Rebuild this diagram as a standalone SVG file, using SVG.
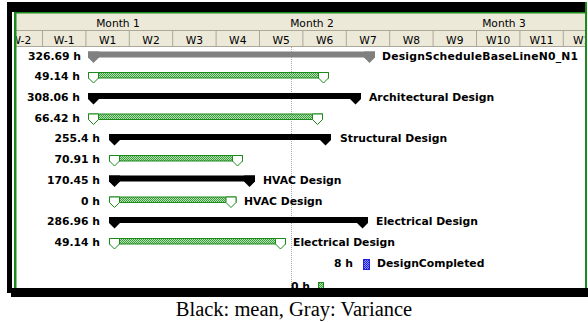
<svg xmlns="http://www.w3.org/2000/svg" width="588" height="322" viewBox="0 0 588 322">
<style>
.hdr{font-family:"DejaVu Sans",Verdana,sans-serif;font-size:10.7px;fill:#000;text-anchor:middle}
.lbl{font-family:"DejaVu Sans",Verdana,sans-serif;font-size:10.8px;font-weight:bold;fill:#000}
.val{font-family:"DejaVu Sans",Verdana,sans-serif;font-size:10.8px;font-weight:bold;fill:#000;text-anchor:end}
.sep{stroke:#aca899;stroke-width:1}
.blk{fill:#000}
.gry{fill:#808080}
.gbody{fill:url(#hatchG);stroke:#1a8a1a;stroke-width:1}
.gend{fill:#fff;stroke:#1a8a1a;stroke-width:1}
.cap{font-family:"Liberation Serif","Times New Roman",serif;font-size:20.5px;fill:#000;text-anchor:middle}
</style>
<defs>
<pattern id="hatchG" width="2" height="2" patternUnits="userSpaceOnUse">
<rect width="2" height="2" fill="#b4e2b4"/><rect width="1" height="1" fill="#3c9c3c"/><rect x="1" y="1" width="1" height="1" fill="#3c9c3c"/>
</pattern>
<pattern id="hatchB" width="2" height="2" patternUnits="userSpaceOnUse">
<rect width="2" height="2" fill="#9090ff"/><rect width="1" height="1" fill="#2020e0"/><rect x="1" y="1" width="1" height="1" fill="#2020e0"/>
</pattern>
<clipPath id="hclip"><rect x="16" y="13" width="569" height="34"/></clipPath>
</defs>
<rect width="588" height="322" fill="#fff"/>

<!-- header -->
<g id="header" clip-path="url(#hclip)">
<rect x="16" y="13" width="569" height="17" fill="#ece9d8"/>
<rect x="16" y="31" width="569" height="15" fill="#ece9d8"/>
<line class="sep" x1="16" y1="30.5" x2="585" y2="30.5"/>
<line class="sep" x1="16" y1="46.5" x2="585" y2="46.5"/>
<text class="hdr" x="118" y="26.5">Month 1</text>
<text class="hdr" x="312" y="26.5">Month 2</text>
<text class="hdr" x="504" y="26.5">Month 3</text>
<g class="sep">
<line x1="42.5" y1="31" x2="42.5" y2="46"/><line x1="85.9" y1="31" x2="85.9" y2="46"/><line x1="129.3" y1="31" x2="129.3" y2="46"/><line x1="172.7" y1="31" x2="172.7" y2="46"/><line x1="216.1" y1="31" x2="216.1" y2="46"/><line x1="259.5" y1="31" x2="259.5" y2="46"/><line x1="302.9" y1="31" x2="302.9" y2="46"/><line x1="346.3" y1="31" x2="346.3" y2="46"/><line x1="389.7" y1="31" x2="389.7" y2="46"/><line x1="433.1" y1="31" x2="433.1" y2="46"/><line x1="476.5" y1="31" x2="476.5" y2="46"/><line x1="519.9" y1="31" x2="519.9" y2="46"/><line x1="563.3" y1="31" x2="563.3" y2="46"/>
</g>
<text class="hdr" x="20.8" y="43.5">W-2</text>
<text class="hdr" x="64.2" y="43.5">W-1</text>
<text class="hdr" x="107.6" y="43.5">W1</text>
<text class="hdr" x="151" y="43.5">W2</text>
<text class="hdr" x="194.4" y="43.5">W3</text>
<text class="hdr" x="237.8" y="43.5">W4</text>
<text class="hdr" x="281.2" y="43.5">W5</text>
<text class="hdr" x="324.6" y="43.5">W6</text>
<text class="hdr" x="368" y="43.5">W7</text>
<text class="hdr" x="411.4" y="43.5">W8</text>
<text class="hdr" x="454.8" y="43.5">W9</text>
<text class="hdr" x="498.2" y="43.5">W10</text>
<text class="hdr" x="541.6" y="43.5">W11</text>
<text class="hdr" x="585" y="43.5">W12</text>
</g>

<g id="connectors">
<line x1="291.5" y1="47" x2="291.5" y2="288" stroke="#a8a8a8" stroke-width="1" stroke-dasharray="1 1"/>
</g>

<g id="row1">
<text class="val" x="81" y="59.5">326.69 h</text>
<rect class="gry" x="88" y="51.5" width="287" height="6"/>
<path class="gry" d="M88,51.5 h11 v6 l-5.5,5.5 l-5.5,-5.5 z"/>
<path class="gry" d="M364,51.5 h11 v6 l-5.5,5.5 l-5.5,-5.5 z"/>
<text class="lbl" x="382" y="59.5" textLength="196" lengthAdjust="spacing">DesignScheduleBaseLineN0_N1</text>
</g>
<g id="row2">
<text class="val" x="80" y="80">49.14 h</text>
<rect class="gbody" x="88.5" y="72.5" width="240" height="5.5"/>
<path class="gend" d="M88.5,72.5 h10 v5.5 l-5,5 l-5,-5 z"/>
<path class="gend" d="M318.5,72.5 h10 v5.5 l-5,5 l-5,-5 z"/>
</g>
<g id="row3">
<text class="val" x="80" y="101">308.06 h</text>
<rect class="blk" x="88" y="93" width="273" height="6"/>
<path class="blk" d="M88,93 h11 v6 l-5.5,5.5 l-5.5,-5.5 z"/>
<path class="blk" d="M350,93 h11 v6 l-5.5,5.5 l-5.5,-5.5 z"/>
<text class="lbl" x="369" y="101">Architectural Design</text>
</g>
<g id="row4">
<text class="val" x="80" y="121.5">66.42 h</text>
<rect class="gbody" x="88.5" y="114" width="234" height="5.5"/>
<path class="gend" d="M88.5,114 h10 v5.5 l-5,5 l-5,-5 z"/>
<path class="gend" d="M312.5,114 h10 v5.5 l-5,5 l-5,-5 z"/>
</g>
<g id="row5">
<text class="val" x="100" y="142">255.4 h</text>
<rect class="blk" x="109" y="134" width="222" height="6"/>
<path class="blk" d="M109,134 h11 v6 l-5.5,5.5 l-5.5,-5.5 z"/>
<path class="blk" d="M320,134 h11 v6 l-5.5,5.5 l-5.5,-5.5 z"/>
<text class="lbl" x="340" y="142">Structural Design</text>
</g>
<g id="row6">
<text class="val" x="100" y="163">70.91 h</text>
<rect class="gbody" x="109.5" y="155.5" width="133" height="5.5"/>
<path class="gend" d="M109.5,155.5 h10 v5.5 l-5,5 l-5,-5 z"/>
<path class="gend" d="M232.5,155.5 h10 v5.5 l-5,5 l-5,-5 z"/>
</g>
<g id="row7">
<text class="val" x="100" y="183.5">170.45 h</text>
<rect class="blk" x="109" y="175.5" width="146" height="6"/>
<path class="blk" d="M109,175.5 h11 v6 l-5.5,5.5 l-5.5,-5.5 z"/>
<path class="blk" d="M244,175.5 h11 v6 l-5.5,5.5 l-5.5,-5.5 z"/>
<text class="lbl" x="263" y="183.5">HVAC Design</text>
</g>
<g id="row8">
<text class="val" x="100" y="204.5">0 h</text>
<rect class="gbody" x="109.5" y="197" width="126.5" height="5.5"/>
<path class="gend" d="M109.5,197 h10 v5.5 l-5,5 l-5,-5 z"/>
<path class="gend" d="M226,197 h10 v5.5 l-5,5 l-5,-5 z"/>
<text class="lbl" x="244" y="204.5">HVAC Design</text>
</g>
<g id="row9">
<text class="val" x="100" y="225">286.96 h</text>
<rect class="blk" x="109" y="217" width="259" height="6"/>
<path class="blk" d="M109,217 h11 v6 l-5.5,5.5 l-5.5,-5.5 z"/>
<path class="blk" d="M357,217 h11 v6 l-5.5,5.5 l-5.5,-5.5 z"/>
<text class="lbl" x="376" y="225">Electrical Design</text>
</g>
<g id="row10">
<text class="val" x="100" y="246">49.14 h</text>
<rect class="gbody" x="109.5" y="238.5" width="176" height="5.5"/>
<path class="gend" d="M109.5,238.5 h10 v5.5 l-5,5 l-5,-5 z"/>
<path class="gend" d="M275.5,238.5 h10 v5.5 l-5,5 l-5,-5 z"/>
<text class="lbl" x="293" y="246">Electrical Design</text>
</g>
<g id="row11">
<text class="val" x="353" y="267">8 h</text>
<rect x="363.5" y="259.5" width="6" height="10" fill="url(#hatchB)" stroke="#2020e0" stroke-width="1"/>
<text class="lbl" x="377" y="267">DesignCompleted</text>
</g>
<g id="row12">
<text class="val" x="310" y="290">0 h</text>
<rect x="318.5" y="282.5" width="5" height="8" fill="url(#hatchG)" stroke="#1a8a1a" stroke-width="1"/>
</g>

<g id="frame">
<rect x="7" y="2" width="578" height="10" fill="#000"/>
<rect x="7" y="2" width="5" height="291" fill="#000"/>
<rect x="11" y="288" width="577" height="9" fill="#000"/>
<rect x="14" y="12" width="571" height="1.5" fill="#1a8a1a"/>
<rect x="14" y="12" width="2.5" height="276" fill="#1a8a1a"/>
<rect x="585" y="2" width="2" height="286" fill="#1a8a1a"/>
</g>

<text class="cap" x="294" y="316">Black: mean, Gray: Variance</text>
</svg>
